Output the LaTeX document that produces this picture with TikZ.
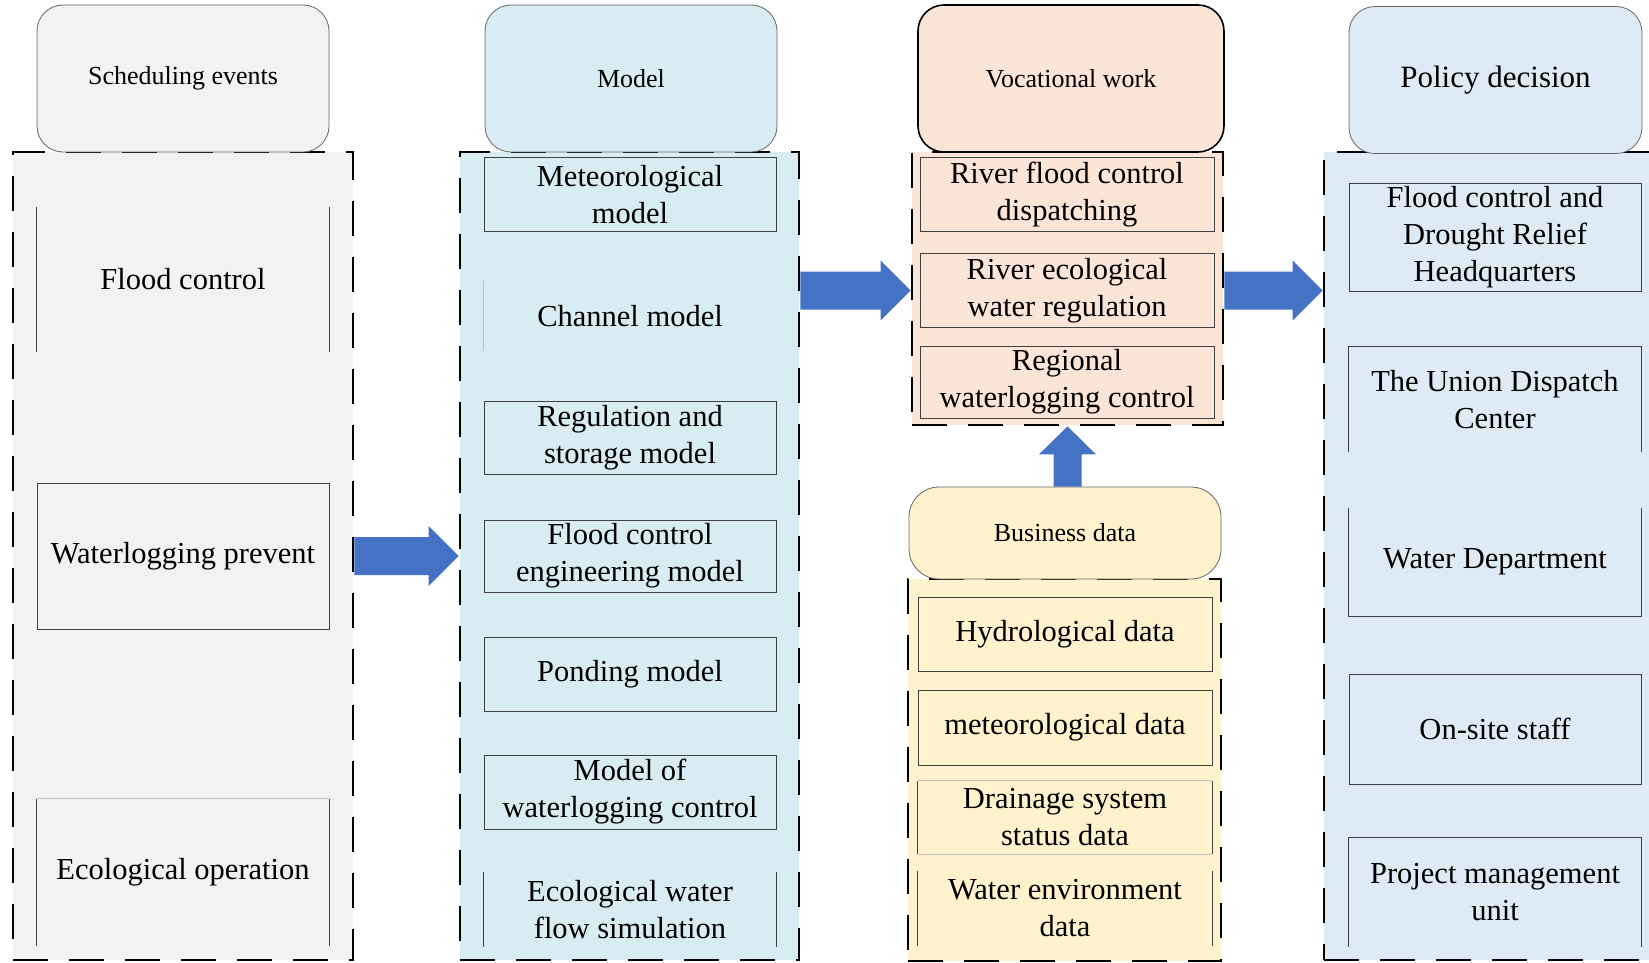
\documentclass[tikz,border=0pt]{standalone}
\usepackage{fontspec}
\setmainfont{Liberation Serif}
\usetikzlibrary{calc}

\definecolor{evtfill}{HTML}{F2F2F2}
\definecolor{modfill}{HTML}{D8EDF3}
\definecolor{workfill}{HTML}{FBE5D6}
\definecolor{datafill}{HTML}{FFF2CC}
\definecolor{polfill}{HTML}{DEEBF7}
\definecolor{flowblue}{HTML}{4472C4}

% horizontal block arrow between two named coordinates (tail, tip)
\newcommand{\flowarrowh}[2]{%
  \fill[flowblue] ($(#1)+(0,-19)$) -- ($(#2)+(-30,-19)$) -- ($(#2)+(-30,-30)$)
    -- (#2) -- ($(#2)+(-30,30)$) -- ($(#2)+(-30,19)$) -- ($(#1)+(0,19)$) -- cycle;}
% upward block arrow between two named coordinates (tail, tip)
\newcommand{\flowarrowup}[2]{%
  \fill[flowblue] ($(#1)+(-14,0)$) -- ($(#2)+(-14,28)$) -- ($(#2)+(-28.5,28)$)
    -- (#2) -- ($(#2)+(28.5,28)$) -- ($(#2)+(14,28)$) -- ($(#1)+(14,0)$) -- cycle;}

\begin{document}
\begin{tikzpicture}[x=1pt,y=-1pt,
  group/.style={draw=black, line width=2.8pt, dash pattern=on 35pt off 21pt,
    inner sep=0pt},
  head/.style={rounded corners=26pt, draw=black!60, line width=0.8pt,
    inner sep=0pt, align=center, font=\fontsize{26}{31}\selectfont},
  cell/.style={inner sep=0pt, align=center, font=\fontsize{30.5}{37}\selectfont},
  framed/.style={cell, draw=black!75, line width=1pt},
  side/.style={draw=black!75, line width=1pt},
  faint/.style={draw=black!25, line width=1pt},
  c1/.style={minimum width=292pt},
  c2/.style={minimum width=292pt},
  c3/.style={minimum width=294pt},
  c4/.style={minimum width=292pt},
]
\clip (0,0) rectangle (1649,963);
\fill[white] (0,0) rectangle (1649,963);

% ---------- Scheduling events ----------
\node[group, fill=evtfill, minimum width=340pt, minimum height=808pt] (g1) at (183,556) {};
\node[head, fill=evtfill, minimum width=292pt, minimum height=147pt] (h1) at (183,78.5) {Scheduling events};
\node[cell, c1, minimum height=145pt] (fc) at (183,279.5) {Flood control};
\node[framed, c1, minimum height=146pt] (wp) at (183,556) {Waterlogging prevent};
\node[cell, c1, minimum height=147pt] (eo) at (183,872.5) {Ecological operation};
\draw[side] (fc.north west) -- (fc.south west) (fc.north east) -- (fc.south east);
\draw[faint] (eo.north west) -- (eo.north east);
\draw[side] (eo.north west) -- (eo.south west) (eo.north east) -- (eo.south east);

% ---------- Model ----------
\node[group, fill=modfill, minimum width=339pt, minimum height=808pt] (g2) at (629.5,556) {};
\node[head, fill=modfill, minimum width=292pt, minimum height=147pt] (h2) at (631,78.5) {Model};
\node[framed, c2, minimum height=73pt] (met) at (630,194.5) {Meteorological\\model};
\node[cell, c2, minimum height=70pt] (chan) at (630,316) {Channel model};
\node[framed, c2, minimum height=73pt] (reg) at (630,437.5) {Regulation and\\storage model};
\node[framed, c2, minimum height=72pt] (fce) at (630,556) {Flood control\\engineering model};
\node[framed, c2, minimum height=74pt] (pond) at (630,674) {Ponding model};
\node[framed, c2, minimum height=74pt] (mwc) at (630,792) {Model of\\waterlogging control};
\node[cell, c2, minimum height=75pt] (eco) at (630,909.5) {Ecological water\\flow simulation};
\draw[faint] ($(chan.north west)+(0,-0)$) -- (chan.south west);
\draw[side] (eco.north west) -- (eco.south west) (eco.north east) -- (eco.south east);

% ---------- Vocational work ----------
\node[group, fill=workfill, minimum width=311pt, minimum height=273pt] (g3) at (1067.5,288.5) {};
\node[head, fill=workfill, draw=black, line width=1.6pt, minimum width=306pt, minimum height=147pt] (h3) at (1071,78.5) {Vocational work};
\node[framed, c3, minimum height=73pt] (rfc) at (1067,194.5) {River flood control\\dispatching};
\node[framed, c3, minimum height=74pt] (rew) at (1067,290.5) {River ecological\\water regulation};
\node[framed, c3, minimum height=72pt] (rwc) at (1067,382) {Regional\\waterlogging control};

% ---------- Business data ----------
\node[group, fill=datafill, minimum width=313pt, minimum height=382pt] (g5) at (1064.5,770) {};
\node[head, fill=datafill, rounded corners=30pt, minimum width=312pt, minimum height=92pt] (h5) at (1065,533) {Business data};
\node[framed, c3, minimum height=74pt] (hyd) at (1065,634) {Hydrological data};
\node[framed, c3, minimum height=75pt] (mdat) at (1065,727.5) {meteorological data};
\node[cell, c3, minimum height=73pt] (drn) at (1065,817.5) {Drainage system\\status data};
\node[cell, c3, minimum height=75pt] (wenv) at (1065,908.5) {Water environment\\data};
\draw[faint] (drn.north west) -- (drn.north east) (drn.south west) -- (drn.south east);
\draw[side] (drn.north west) -- (drn.south west) (drn.north east) -- (drn.south east);
\draw[side] (wenv.north west) -- (wenv.south west) (wenv.north east) -- (wenv.south east);

% ---------- Policy decision ----------
\node[group, fill=polfill, minimum width=376pt, minimum height=808pt] (g4) at (1512,556) {};
\node[head, fill=polfill, font=\fontsize{31}{37}\selectfont, minimum width=293pt, minimum height=147pt] (h4) at (1495.5,80) {Policy decision};
\node[framed, c4, minimum height=108pt] (hq) at (1495,237) {Flood control and\\Drought Relief\\Headquarters};
\node[cell, c4, minimum height=105pt] (udc) at (1495,399.5) {The Union Dispatch\\Center};
\node[cell, c4, minimum height=108pt] (wd) at (1495,562) {Water Department};
\node[framed, c4, minimum height=110pt] (oss) at (1495,729) {On-site staff};
\node[cell, c4, minimum height=109pt] (pmu) at (1495,892.5) {Project management\\unit};
\draw[side] (udc.south west) -- (udc.north west) -- (udc.north east) -- (udc.south east);
\draw[side] (wd.north west) -- (wd.south west) -- (wd.south east) -- (wd.north east);
\draw[side] (pmu.south west) -- (pmu.north west) -- (pmu.north east) -- (pmu.south east);

% ---------- flow arrows ----------
\coordinate (a1s) at (g1.east |- wp.center);
\coordinate (a1e) at (g2.west |- wp.center);
\coordinate (a2s) at (g2.east |- rew.center);
\coordinate (a2e) at (g3.west |- rew.center);
\coordinate (a3s) at (g3.east |- rew.center);
\coordinate (a3e) at (g4.west |- rew.center);
\coordinate (a4s) at (g3.south |- h5.north);
\coordinate (a4e) at (g3.south);
\flowarrowh{a1s}{a1e}
\flowarrowh{a2s}{a2e}
\flowarrowh{a3s}{a3e}
\flowarrowup{a4s}{a4e}
\end{tikzpicture}
\end{document}
